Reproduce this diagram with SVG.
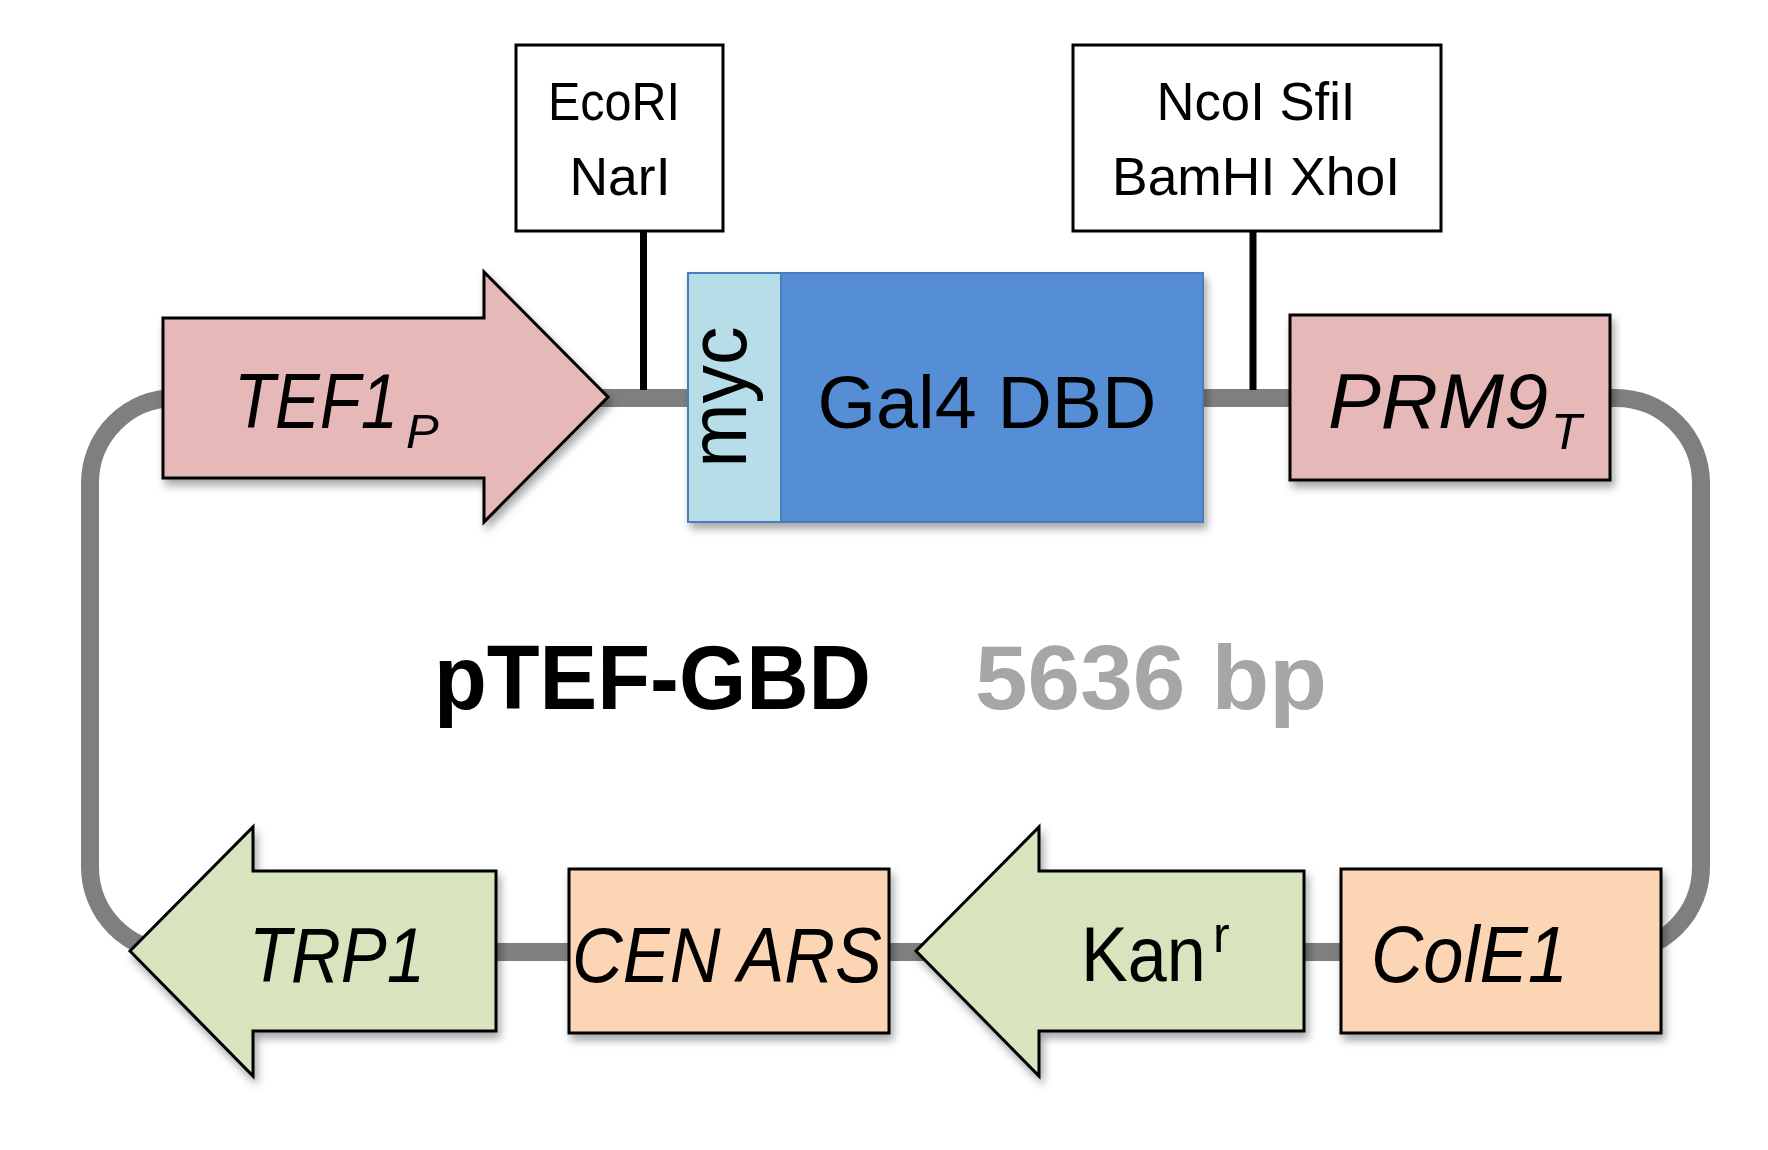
<svg xmlns="http://www.w3.org/2000/svg" width="1768" height="1150" viewBox="0 0 1768 1150">
<defs>
<filter id="sh" x="-10%" y="-10%" width="125%" height="135%">
<feDropShadow dx="3" dy="6" stdDeviation="4" flood-color="#000" flood-opacity="0.35"/>
</filter>
<style>
.bb{fill:none;stroke:#7f7f7f;stroke-width:18}
.tick{stroke:#000;stroke-width:7;fill:none}
.site{fill:#fff;stroke:#000;stroke-width:3}
.part{stroke:#000;stroke-width:3;stroke-linejoin:miter}
.pink{fill:#e6b9b8}
.green{fill:#d7e4bd}
.peach{fill:#fcd5b5}
.t{font-family:"Liberation Sans",Arial,sans-serif;fill:#000}
.it{font-style:italic}
.site-t{font-size:53px;text-anchor:middle}
</style>
</defs>
<rect width="1768" height="1150" fill="#fff"/>

<g id="connectors">
<rect class="bb" x="90" y="398" width="1611" height="554" rx="85" ry="85"/>
<line class="tick" x1="643.5" y1="231" x2="643.5" y2="390"/>
<line class="tick" x1="1253" y1="231" x2="1253" y2="390"/>
</g>

<g id="site-ecori">
<rect class="site" x="516" y="45" width="207" height="186"/>
<text class="t site-t" x="614" y="120" textLength="132" lengthAdjust="spacingAndGlyphs">EcoRI</text>
<text class="t site-t" x="620" y="195" textLength="101" lengthAdjust="spacingAndGlyphs">NarI</text>
</g>

<g id="site-ncoi">
<rect class="site" x="1073" y="45" width="368" height="186"/>
<text class="t site-t" x="1256" y="120" textLength="199" lengthAdjust="spacingAndGlyphs">NcoI SfiI</text>
<text class="t site-t" x="1256" y="195" textLength="288" lengthAdjust="spacingAndGlyphs">BamHI XhoI</text>
</g>

<g id="tef1">
<polygon class="part pink" filter="url(#sh)" points="163,318 484,318 484,272 608,397 484,522 484,478 163,478"/>
<text class="t it" transform="translate(234 428) scale(0.86 1)" font-size="78">TEF1</text>
<text class="t it" x="406" y="448" font-size="49">P</text>
</g>

<g id="myc-gal4" filter="url(#sh)">
<rect x="688" y="273" width="93" height="249" fill="#b7dee8" stroke="#4a7ebb" stroke-width="2"/>
<rect x="781" y="273" width="422" height="249" fill="#558ed5" stroke="#4a7ebb" stroke-width="2"/>
<text class="t" transform="translate(746 397) rotate(-90)" text-anchor="middle" font-size="82" textLength="141" lengthAdjust="spacingAndGlyphs">myc</text>
<text class="t" x="987" y="428" text-anchor="middle" font-size="75" textLength="339" lengthAdjust="spacingAndGlyphs">Gal4 DBD</text>
</g>

<g id="prm9">
<rect class="part pink" filter="url(#sh)" x="1290" y="315" width="320" height="165"/>
<text class="t it" x="1328" y="428" font-size="78"><tspan textLength="220" lengthAdjust="spacingAndGlyphs">PRM9</tspan><tspan font-size="50" dx="3" dy="21">T</tspan></text>
</g>

<g id="title">
<text class="t" x="434" y="709" font-size="90" font-weight="bold" textLength="437" lengthAdjust="spacingAndGlyphs">pTEF-GBD</text>
<text class="t" x="975" y="709" font-size="90" font-weight="bold" style="fill:#a6a6a6" textLength="352" lengthAdjust="spacingAndGlyphs">5636 bp</text>
</g>

<g id="trp1">
<polygon class="part green" filter="url(#sh)" points="496,871 253,871 253,827 130,951 253,1076 253,1031 496,1031"/>
<text class="t it" x="249" y="982" font-size="78" textLength="176" lengthAdjust="spacingAndGlyphs">TRP1</text>
</g>

<g id="cen-ars">
<rect class="part peach" filter="url(#sh)" x="569" y="869" width="320" height="164"/>
<text class="t it" x="572" y="982" font-size="78" textLength="310" lengthAdjust="spacingAndGlyphs">CEN ARS</text>
</g>

<g id="kanr">
<polygon class="part green" filter="url(#sh)" points="1304,871 1039,871 1039,827 916,951 1039,1076 1039,1031 1304,1031"/>
<text class="t" transform="translate(1081 981) scale(0.91 1)" font-size="77">Kan</text>
<text class="t" x="1213" y="952" font-size="50">r</text>
</g>

<g id="cole1">
<rect class="part peach" filter="url(#sh)" x="1341" y="869" width="320" height="164"/>
<text class="t it" x="1371" y="982" font-size="80" textLength="197" lengthAdjust="spacingAndGlyphs">ColE1</text>
</g>
</svg>
